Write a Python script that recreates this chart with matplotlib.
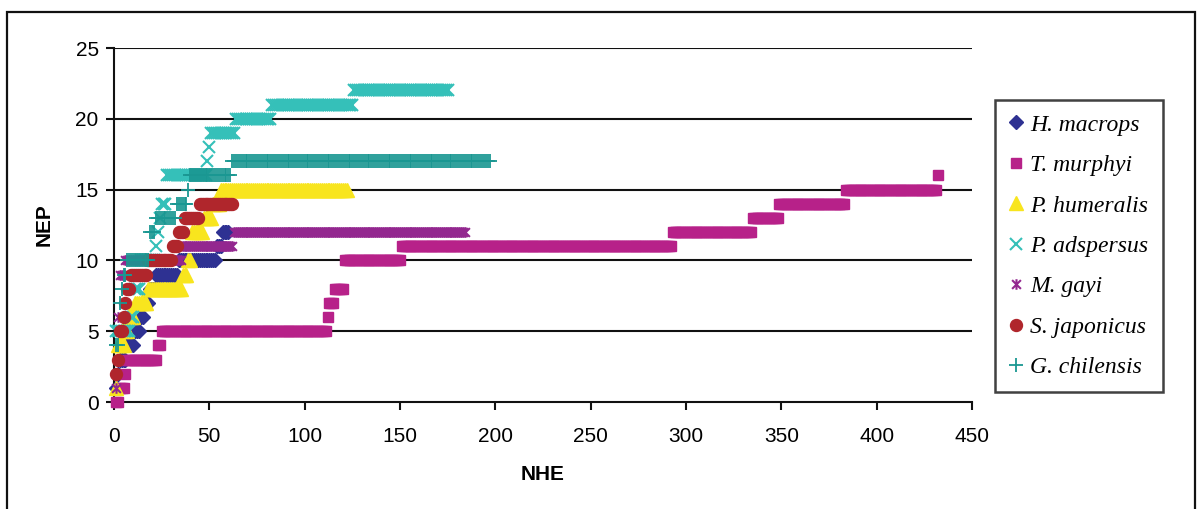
import numpy as np
import matplotlib
matplotlib.use('Agg')
import matplotlib.pyplot as plt
from matplotlib.path import Path
from matplotlib.patches import Rectangle

# species accumulation: each run starts at a haul number (NHE) with a species count (NEP)
hm_start = [1, 2, 3, 7, 11, 14, 16, 19, 22, 34, 54, 57]
hm_level = [1, 2, 3, 4, 5, 6, 7, 8, 9, 10, 11, 12]
hm_last = 60

tm_start = [1, 3, 6, 7, 23, 25, 112, 113, 116, 121, 151, 293, 335, 349, 384, 432]
tm_level = [0, 1, 2, 3, 4, 5, 6, 7, 8, 10, 11, 12, 13, 14, 15, 16]
tm_last = 432

ph_start = [1, 2, 6, 8, 11, 18, 36, 39, 41, 47, 52, 56]
ph_level = [1, 4, 5, 6, 7, 8, 9, 10, 12, 13, 14, 15]
ph_last = 122

pa_start = [1, 9, 11, 14, 22, 23, 24, 25, 28, 49, 50, 51, 64, 83, 126]
pa_level = [5, 6, 8, 10, 11, 12, 13, 14, 16, 17, 18, 19, 20, 21, 22]
pa_last = 175

mg_start = [1, 2, 3, 6, 36, 63]
mg_level = [1, 6, 9, 10, 11, 12]
mg_last = 184

sj_start = [1, 2, 3, 5, 6, 7, 9, 18, 31, 34, 37, 45]
sj_level = [2, 3, 5, 6, 7, 8, 9, 10, 11, 12, 13, 14]
sj_last = 62

gc_start = [1, 3, 4, 5, 7, 19, 22, 33, 39, 40, 62]
gc_level = [4, 7, 8, 9, 10, 12, 13, 14, 15, 16, 17]
gc_last = 197

names = ['H. macrops', 'T. murphyi', 'P. humeralis', 'P. adspersus',
         'M. gayi', 'S. japonicus', 'G. chilensis']


def expand(starts, levels, last):
    # one point per haul, holding the count until the next run begins
    ends = starts[1:] + [last + 1]
    xs, ys = [], []
    for s, e, v in zip(starts, ends, levels):
        for x in range(s, e):
            xs.append(x)
            ys.append(v)
    return xs, ys


asterisk = Path([(-1, -1), (1, 1), (-1, 1), (1, -1), (0, -1.2), (0, 1.2)],
                [Path.MOVETO, Path.LINETO, Path.MOVETO, Path.LINETO,
                 Path.MOVETO, Path.LINETO])

styles = [
    dict(marker='D', ms=7.2, color='#2E3192', mec='#2E3192'),
    dict(marker='s', ms=7.8, color='#B72189', mec='#B72189'),
    dict(marker='^', ms=9.4, color='#F8E51E', mec='#F8E51E'),
    dict(marker='x', ms=8.2, color='#35C0B9', mew=1.5),
    dict(marker=asterisk, ms=7.6, color='#93278F', mew=1.5),
    dict(marker='o', ms=8.6, color='#B0262C', mec='#B0262C'),
    dict(marker='+', ms=9.4, color='#1A9792', mew=1.3),
]

series = [
    (hm_start, hm_level, hm_last),
    (tm_start, tm_level, tm_last),
    (ph_start, ph_level, ph_last),
    (pa_start, pa_level, pa_last),
    (mg_start, mg_level, mg_last),
    (sj_start, sj_level, sj_last),
    (gc_start, gc_level, gc_last),
]

plt.rcParams['font.family'] = ['Liberation Sans', 'DejaVu Sans']

fig = plt.figure(figsize=(12.01, 5.09), dpi=100)
ax = fig.add_axes([114 / 1201, 1 - 402 / 509, 858 / 1201, 354 / 509])

for (st, lv, last), name, sty in zip(series, names, styles):
    xs, ys = expand(st, lv, last)
    ax.plot(xs, ys, linestyle='none', label=name, clip_on=False, zorder=3, **sty)

ax.set_xlim(0, 450)
ax.set_ylim(0, 25)
ax.set_xticks(np.arange(0, 451, 50))
ax.set_yticks(np.arange(0, 26, 5))
for y in range(5, 26, 5):
    ax.axhline(y, color='#111111', lw=1.5, zorder=1)

for s in ['top', 'right']:
    ax.spines[s].set_visible(False)
for s in ['left', 'bottom']:
    ax.spines[s].set_color('#111111')
    ax.spines[s].set_linewidth(1.5)
ax.tick_params(axis='both', direction='out', length=6, width=1.5,
               color='#111111', labelsize=15, pad=5)
ax.tick_params(axis='x', pad=12)

ax.set_xlabel('NHE', fontsize=15, fontweight='bold', labelpad=14)
ax.set_ylabel('NEP', fontsize=15, fontweight='bold', labelpad=16)

leg = fig.legend(loc='upper left', bbox_to_anchor=(995 / 1201, 1 - 100 / 509),
                 frameon=True, fancybox=False, edgecolor='#111111',
                 prop={'family': 'Liberation Serif', 'style': 'italic', 'size': 17},
                 handlelength=0.55, handletextpad=0.35, labelspacing=0.8,
                 borderpad=0.6, numpoints=1, borderaxespad=0)
leg.get_frame().set_linewidth(1.8)

# outer chart border
fig.patches.append(Rectangle((7 / 1201, -0.1), 1188 / 1201, 1.1 - 12 / 509,
                             transform=fig.transFigure, fill=False,
                             edgecolor='#111111', lw=1.6))

fig.savefig('out.png', dpi=100)
